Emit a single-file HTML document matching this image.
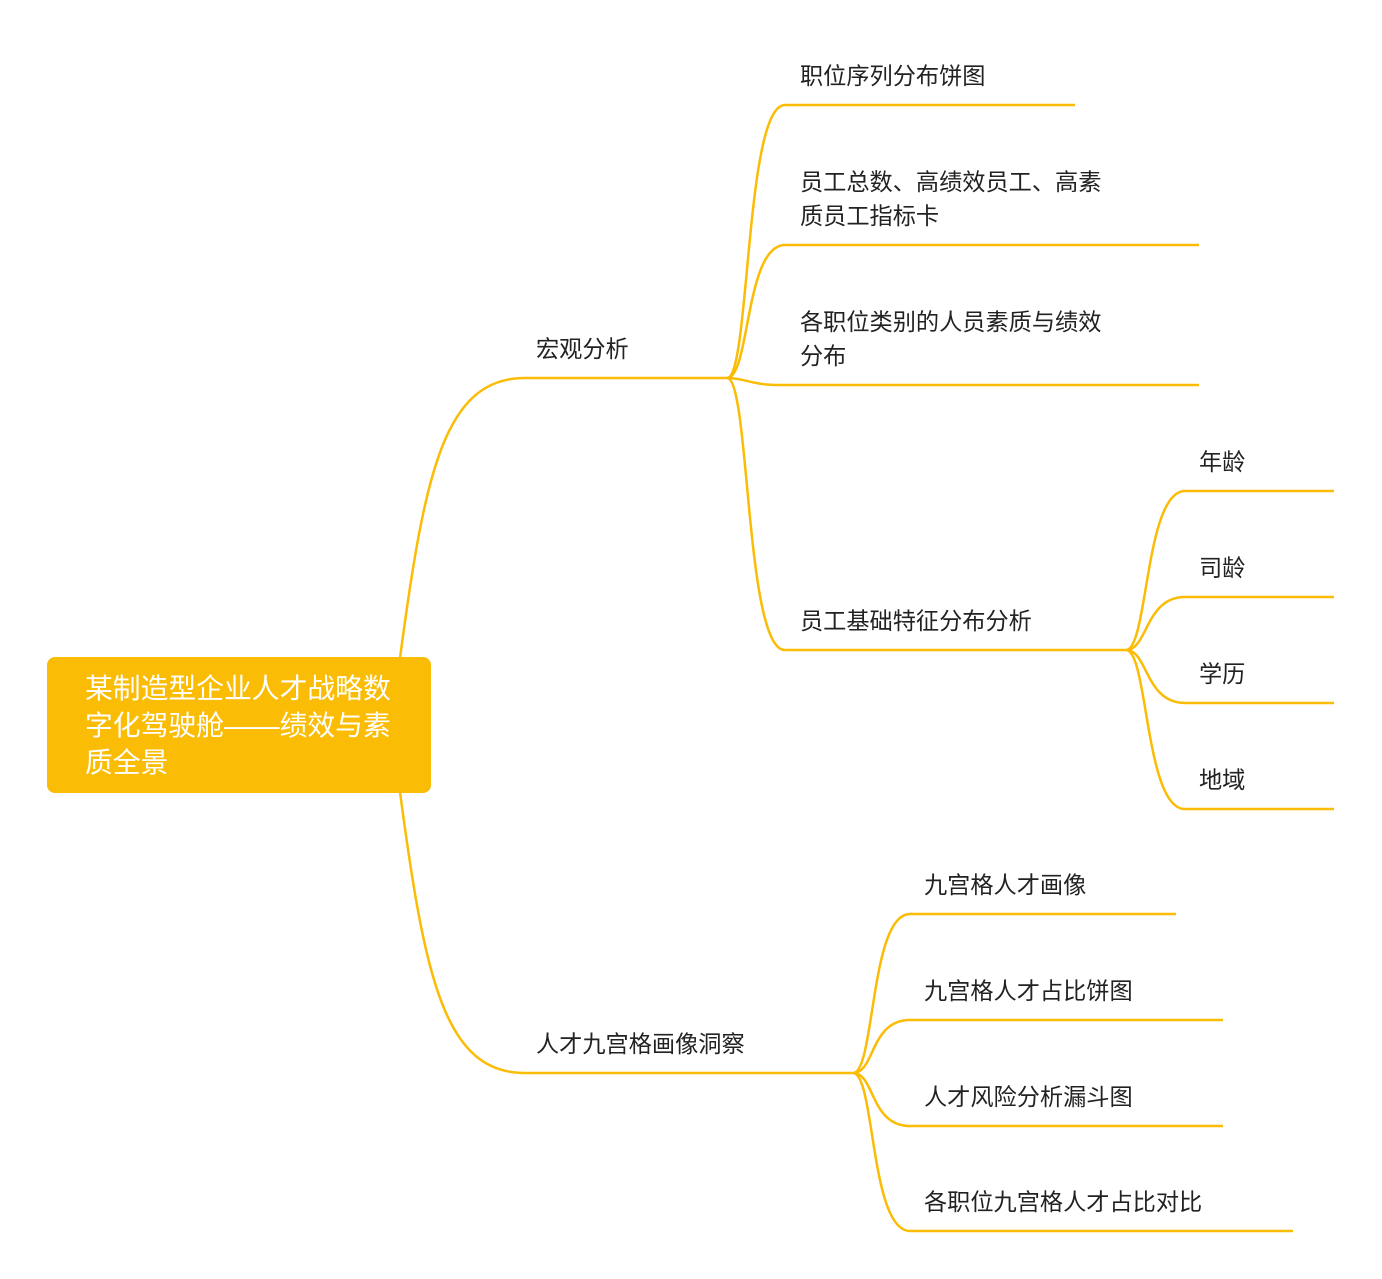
<!DOCTYPE html>
<html><head><meta charset="utf-8">
<style>
html,body{margin:0;padding:0;background:#fff;}
svg{display:block;}
text{font-family:"Liberation Sans","Noto Sans CJK SC",sans-serif;font-size:23.2px;fill:#222;}
.w{fill:#fff;font-size:27.8px;}
path{fill:none;stroke:#FBBC05;stroke-width:2.5;}
</style></head><body>
<svg width="1382" height="1279" viewBox="0 0 1382 1279" xmlns="http://www.w3.org/2000/svg">
<path d="M400,658 C425,470 445,378 525,378 H727"/>
<path d="M400,792 C425,980 445,1073 525,1073 H853"/>
<rect x="47" y="657" width="384" height="136" rx="8" fill="#FBBC05" style="stroke:none"/>
<text class="w" x="85" y="698">某制造型企业人才战略数</text>
<text class="w" x="85" y="735">字化驾驶舱——绩效与素</text>
<text class="w" x="85" y="772">质全景</text>
<text x="536" y="357">宏观分析</text>
<text x="536" y="1052">人才九宫格画像洞察</text>
<path d="M727,378 C750,378 745,105 785,105 H1075"/>
<path d="M727,378 C750,378 745,245 785,245 H1199"/>
<path d="M727,378 C745,378 750,385 780,385 H1199"/>
<path d="M727,378 C750,378 745,650 785,650 H1126"/>
<text x="800" y="84">职位序列分布饼图</text>
<text x="800" y="190">员工总数、高绩效员工、高素</text>
<text x="800" y="224">质员工指标卡</text>
<text x="800" y="330">各职位类别的人员素质与绩效</text>
<text x="800" y="364">分布</text>
<text x="800" y="629">员工基础特征分布分析</text>
<path d="M1126,650 C1148,650 1145,491 1185,491 H1334"/>
<path d="M1126,650 C1148,650 1145,597 1185,597 H1334"/>
<path d="M1126,650 C1148,650 1145,703 1185,703 H1334"/>
<path d="M1126,650 C1148,650 1145,809 1185,809 H1334"/>
<text x="1199" y="470">年龄</text>
<text x="1199" y="576">司龄</text>
<text x="1199" y="682">学历</text>
<text x="1199" y="788">地域</text>
<path d="M853,1073 C875,1073 870,914 910,914 H1176"/>
<path d="M853,1073 C875,1073 870,1020 910,1020 H1223"/>
<path d="M853,1073 C875,1073 870,1126 910,1126 H1223"/>
<path d="M853,1073 C875,1073 870,1231 910,1231 H1293"/>
<text x="924" y="893">九宫格人才画像</text>
<text x="924" y="999">九宫格人才占比饼图</text>
<text x="924" y="1105">人才风险分析漏斗图</text>
<text x="924" y="1210">各职位九宫格人才占比对比</text>
</svg>
</body></html>
